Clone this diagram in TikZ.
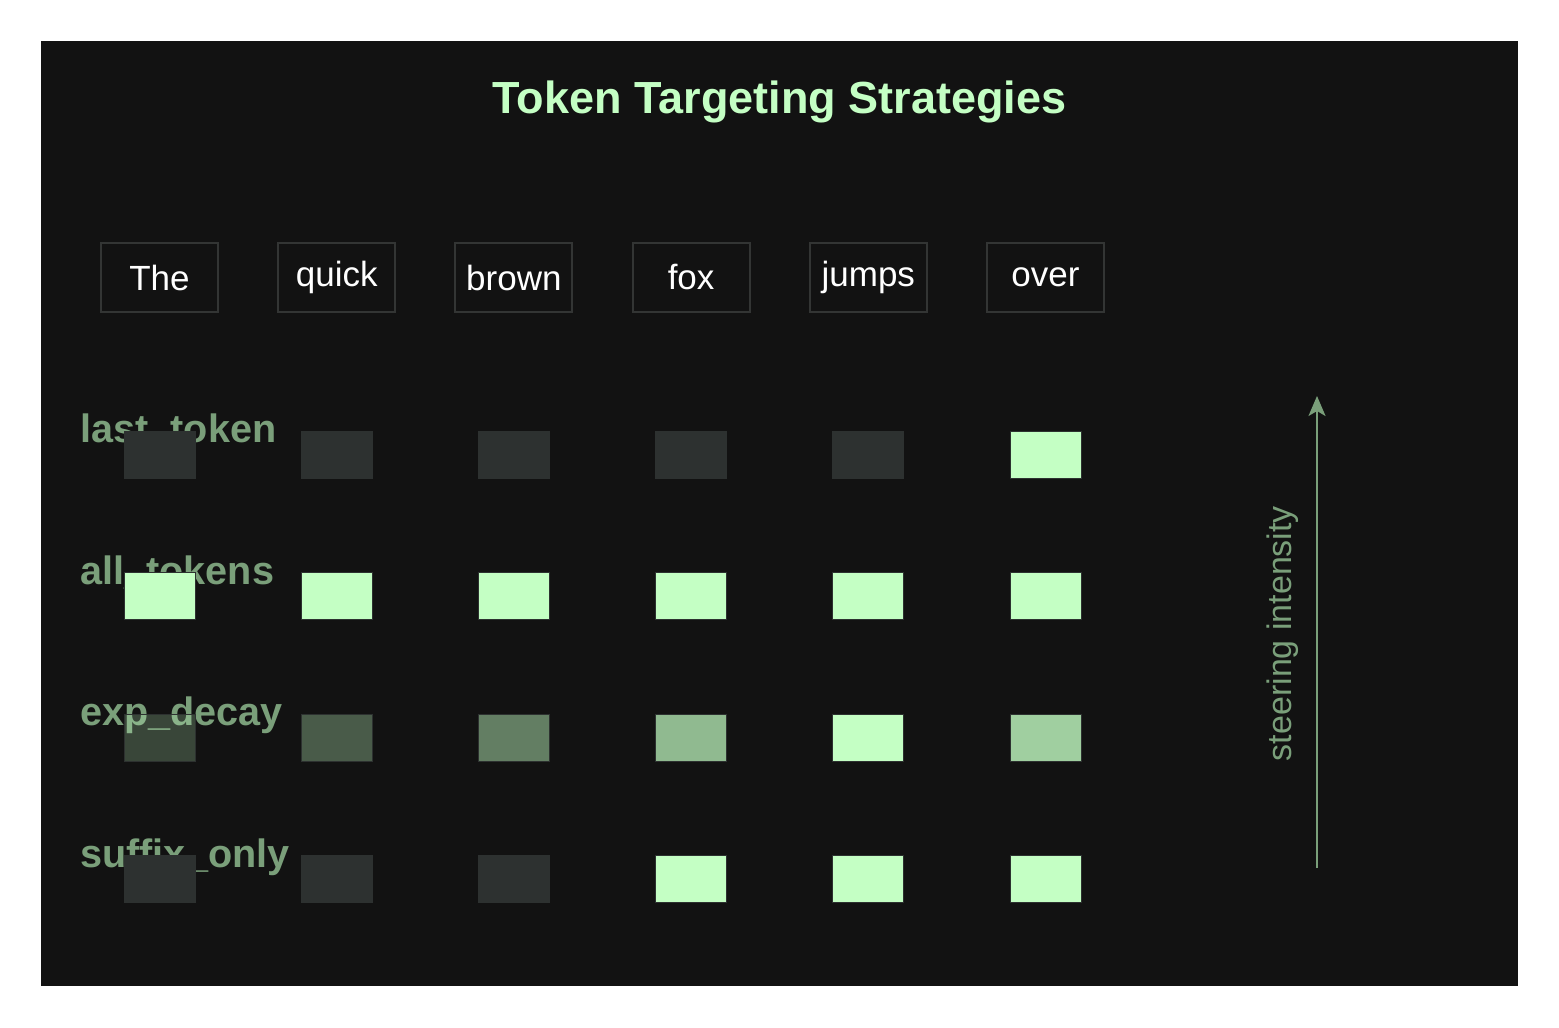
\documentclass[tikz,border=0pt]{standalone}
\usepackage{fontspec}
\setmainfont{Liberation Sans}
\usetikzlibrary{positioning,arrows.meta}
\definecolor{bgdark}{HTML}{121212}
\definecolor{mint}{HTML}{C4FFC4}
\definecolor{sage}{HTML}{7A9F7A}
\definecolor{cellgray}{HTML}{2D3130}
\definecolor{boxline}{HTML}{333534}

\begin{document}
\begin{tikzpicture}[x=0.5pt,y=-0.5pt,node distance=88.6pt]
\tikzstyle{token}=[draw=boxline,line width=1pt,fill=bgdark,minimum width=58.5pt,minimum height=34.5pt,inner sep=0pt,text=white,font=\fontsize{17.5}{21}\selectfont]
\tikzstyle{cell}=[draw=cellgray,line width=0.5pt,minimum width=35.5pt,minimum height=23.5pt,inner sep=0pt]
\tikzstyle{celloff}=[cell,fill=cellgray]
\tikzstyle{cellon}=[cell,fill=mint]
\tikzstyle{rowlabel}=[anchor=base west,inner sep=0pt,text=sage,font=\fontsize{19.8}{23}\selectfont\bfseries]
\tikzstyle{intensity}=[-{Stealth[length=10pt,width=8.5pt,inset=2.5pt]},draw=sage,line width=1pt]

\path[fill=white] (0,0) rectangle (1559,1028);
\path[fill=bgdark] (41,41) rectangle (1518,986);

\node[anchor=base,text=mint,font=\fontsize{22.5}{27}\selectfont\bfseries] (title) at (779.5,113) {Token Targeting Strategies};

% tokens
\node[token] (t1) at (159.5,277.5) {The};
\node[token] (t2) [right of = t1] {quick};
\node[token] (t3) [right of = t2] {brown};
\node[token] (t4) [right of = t3] {fox};
\node[token] (t5) [right of = t4] {jumps};
\node[token] (t6) [right of = t5] {over};

% strategy names (under the cells)
\node[rowlabel] (last) at (80,442) {last\_token};
\node[rowlabel] (all) at (80,584) {all\_tokens};
\node[rowlabel] (decay) at (80,725.5) {exp\_decay};
\node[rowlabel] (suffix) at (80,867) {suffix\_only};

% last_token
\node[celloff] (l1) [below of = t1, node distance=88.5pt] {};
\node[celloff] (l2) [right of = l1] {};
\node[celloff] (l3) [right of = l2] {};
\node[celloff] (l4) [right of = l3] {};
\node[celloff] (l5) [right of = l4] {};
\node[cellon] (l6) [right of = l5] {};

% all_tokens
\node[cellon] (a1) [below of = l1, node distance=70.8pt] {};
\node[cellon] (a2) [right of = a1] {};
\node[cellon] (a3) [right of = a2] {};
\node[cellon] (a4) [right of = a3] {};
\node[cellon] (a5) [right of = a4] {};
\node[cellon] (a6) [right of = a5] {};

% exp_decay
\node[cellon,fill opacity=0.22] (e1) [below of = a1, node distance=70.8pt] {};
\node[cellon,fill opacity=0.31] (e2) [right of = e1] {};
\node[cellon,fill opacity=0.46] (e3) [right of = e2] {};
\node[cellon,fill opacity=0.71] (e4) [right of = e3] {};
\node[cellon] (e5) [right of = e4] {};
\node[cellon,fill opacity=0.8] (e6) [right of = e5] {};

% suffix_only
\node[celloff] (s1) [below of = e1, node distance=70.8pt] {};
\node[celloff] (s2) [right of = s1] {};
\node[celloff] (s3) [right of = s2] {};
\node[cellon] (s4) [right of = s3] {};
\node[cellon] (s5) [right of = s4] {};
\node[cellon] (s6) [right of = s5] {};

\node[rotate=90,text=sage,font=\fontsize{17}{20}\selectfont] (steer) at (1283,633.5) {steering intensity};
\coordinate (arr_s) at (1317,868);
\coordinate (arr_e) at (1317,396);
\draw[intensity] (arr_s) -- (arr_e);
\end{tikzpicture}
\end{document}
